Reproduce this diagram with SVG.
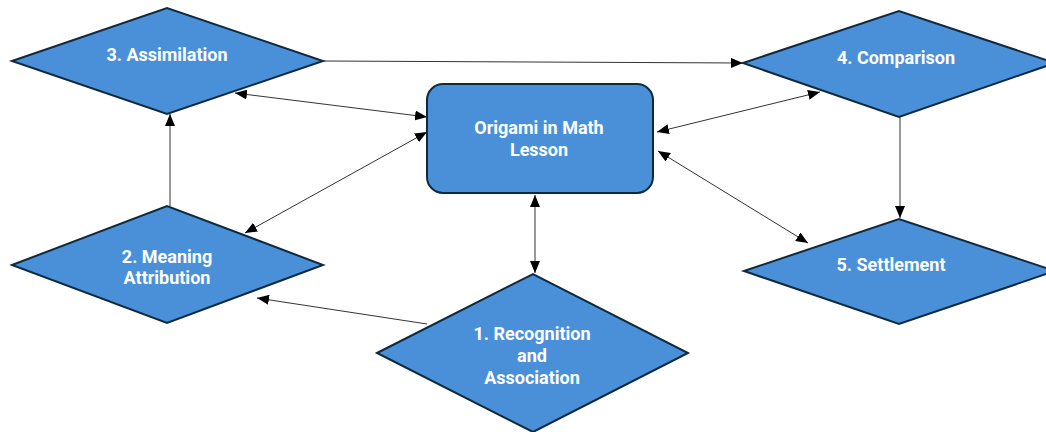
<svg xmlns="http://www.w3.org/2000/svg" width="1046" height="432" viewBox="0 0 1046 432">
<style>
.node{fill:#4a90d9;stroke:#0f2a3d;stroke-width:2}
.lbl{font-family:Roboto,"Liberation Sans",sans-serif;font-weight:bold;font-size:18px;fill:#ffffff;text-anchor:middle}
.edge{fill:none;stroke:#333333;stroke-width:1}
</style>
<defs>
<marker id="ah" viewBox="0 0 12 10" refX="12" refY="5" markerWidth="12" markerHeight="10" markerUnits="userSpaceOnUse" orient="auto-start-reverse">
<path d="M0,0 L12,5 L0,10 z" fill="#000000"/>
</marker>
</defs>
<rect width="1046" height="432" fill="#ffffff"/>
<g id="connectors">
<line class="edge" x1="323" y1="61" x2="743" y2="63" marker-end="url(#ah)"/>
<line class="edge" x1="235" y1="93" x2="427" y2="117" marker-start="url(#ah)" marker-end="url(#ah)"/>
<line class="edge" x1="245" y1="233" x2="427" y2="132" marker-start="url(#ah)" marker-end="url(#ah)"/>
<line class="edge" x1="657" y1="132" x2="820" y2="92" marker-start="url(#ah)" marker-end="url(#ah)"/>
<line class="edge" x1="658" y1="151" x2="808" y2="243" marker-start="url(#ah)" marker-end="url(#ah)"/>
<line class="edge" x1="535" y1="195" x2="535" y2="273" marker-start="url(#ah)" marker-end="url(#ah)"/>
<line class="edge" x1="170" y1="206" x2="170" y2="114" marker-end="url(#ah)"/>
<line class="edge" x1="900" y1="117" x2="900" y2="218" marker-end="url(#ah)"/>
<line class="edge" x1="427" y1="324" x2="257" y2="298" marker-end="url(#ah)"/>
</g>
<g id="center">
<rect class="node" x="427" y="84" width="226" height="109" rx="16" ry="16"/>
<text class="lbl" x="539" y="134">Origami in Math</text>
<text class="lbl" x="539" y="156">Lesson</text>
</g>
<g id="n3">
<polygon class="node" points="12,61 167,8 323,61 167,114"/>
<text class="lbl" x="167" y="61">3. Assimilation</text>
</g>
<g id="n4">
<polygon class="node" points="743,63 899,11 1055,63 899,117"/>
<text class="lbl" x="896" y="64">4. Comparison</text>
</g>
<g id="n2">
<polygon class="node" points="12,265 167,206 323,265 167,323"/>
<text class="lbl" x="167" y="263">2. Meaning</text>
<text class="lbl" x="167" y="284">Attribution</text>
</g>
<g id="n1">
<polygon class="node" points="377,353 533,274 688,353 533,432"/>
<text class="lbl" x="532" y="340">1. Recognition</text>
<text class="lbl" x="532" y="362">and</text>
<text class="lbl" x="532" y="384">Association</text>
</g>
<g id="n5">
<polygon class="node" points="744,271 899,219 1055,271 899,324"/>
<text class="lbl" x="891" y="271">5. Settlement</text>
</g>
</svg>
